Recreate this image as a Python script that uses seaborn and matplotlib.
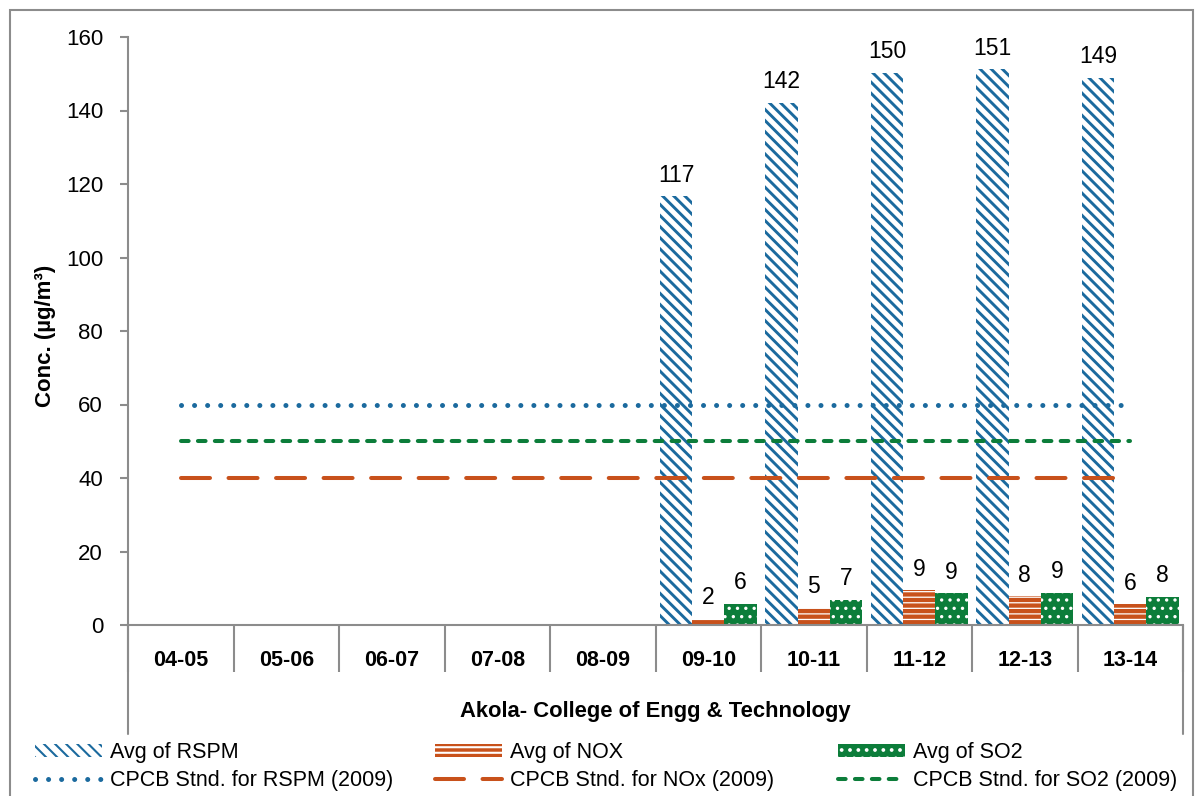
import numpy as np
import pandas as pd
import matplotlib
matplotlib.use("Agg")
import matplotlib.pyplot as plt
import seaborn as sns
from matplotlib.patches import Rectangle
from matplotlib.lines import Line2D

sns.set_style("white")
plt.rcParams['font.family'] = ['Liberation Sans', 'DejaVu Sans']
plt.rcParams['text.color'] = 'black'
plt.rcParams['axes.labelcolor'] = 'black'
plt.rcParams['hatch.linewidth'] = 1.5

# data
years = ['04-05', '05-06', '06-07', '07-08', '08-09', '09-10', '10-11', '11-12', '12-13', '13-14']
data_years = ['09-10', '10-11', '11-12', '12-13', '13-14']
rspm = [116.6, 142.0, 150.2, 151.2, 148.8]
nox = [1.6, 4.6, 9.4, 7.8, 5.6]
so2 = [5.8, 6.8, 8.6, 8.7, 7.6]
params = ['Avg of RSPM', 'Avg of NOX', 'Avg of SO2']
std_labels = ['CPCB Stnd. for RSPM (2009)', 'CPCB Stnd. for NOx (2009)', 'CPCB Stnd. for SO2 (2009)']
std_values = [60, 40, 50]

blue = '#1B6A9E'
orange = '#C8511B'
green = '#0C7D3A'
grid_gray = '#8C8C8C'

df = pd.DataFrame({
    'year': data_years * 3,
    'param': [params[0]] * 5 + [params[1]] * 5 + [params[2]] * 5,
    'value': rspm + nox + so2,
})

fig = plt.figure(figsize=(12.03, 7.96), dpi=100)
ax = fig.add_axes([128 / 1203, 1 - 625 / 796, 1055 / 1203, 588 / 796])

sns.barplot(data=df, x='year', y='value', hue='param', order=years, hue_order=params,
            palette=[blue, orange, green], saturation=1, width=0.915, gap=0,
            errorbar=None, linewidth=0, legend=False, ax=ax)

# hatch styling: edgecolor carries the hatch colour
styles = [('white', blue, '\\\\\\', 2.1), (orange, 'white', '---', 0.9), (green, 'white', '..', 1.2)]
for cont, (fc, hc, hatch, hlw) in zip(ax.containers, styles):
    for bar in cont:
        bar.set_facecolor(fc)
        bar.set_edgecolor(hc)
        bar.set_linewidth(0)
        bar.set_hatch(hatch)
        if hasattr(bar, 'set_hatch_linewidth'):
            bar.set_hatch_linewidth(hlw)
    ax.bar_label(cont, fmt='%.0f', padding=7, fontsize=16.5, color='black')

# standard lines from first to last category centre
x_pos = np.arange(len(years))
line_styles = [(blue, (0, (0.01, 2.6)), 3.6), (orange, (0, (7.2, 4.6)), 2.9), (green, (0, (1.9, 2.3)), 2.9)]
line_handles = []
for val, (c, ls, lw), lab in zip(std_values, line_styles, std_labels):
    sns.lineplot(x=x_pos, y=[val] * len(years), ax=ax, color=c, linewidth=lw, legend=False)
    ln = ax.lines[-1]
    ln.set_linestyle(ls)
    ln.set_dash_capstyle('round')
    ln.set_zorder(5)
    line_handles.append(Line2D([], [], color=c, linewidth=lw, linestyle=ls,
                               dash_capstyle='round', label=lab))

ax.set_ylim(0, 160)
ax.set_xlim(-0.5, len(years) - 0.5)
ax.set_yticks(range(0, 161, 20))
ax.set_xlabel('')
ax.set_ylabel('')
for s in ['top', 'right']:
    ax.spines[s].set_visible(False)
for s in ['left', 'bottom']:
    ax.spines[s].set_color(grid_gray)
    ax.spines[s].set_linewidth(1.5)

ax.tick_params(axis='y', which='major', length=6, width=1.5, color=grid_gray, labelcolor='black',
               direction='out', left=True, pad=12, labelsize=16)
ax.set_xticks(x_pos)
ax.set_xticklabels(years, fontweight='bold')
ax.set_xticks(np.arange(-0.5, len(years), 1), minor=True)
ax.tick_params(axis='x', which='major', length=0, pad=18, labelsize=15.5, labelcolor='black')
ax.tick_params(axis='x', which='minor', length=34, width=1.5, color=grid_gray,
               direction='out', bottom=True)

# outer lines of the multi-level category axis
for xv in [-0.5, len(years) - 0.5]:
    ax.add_line(Line2D([xv, xv], [0, -0.185], transform=ax.get_xaxis_transform(),
                       color=grid_gray, linewidth=1.5, clip_on=False))

fig.text(45 / 1203, 1 - 336 / 796, 'Conc. (µg/m³)', rotation=90, ha='center', va='center',
         fontsize=16, fontweight='bold')
fig.text(655.5 / 1203, 1 - 711 / 796, 'Akola- College of Engg & Technology', ha='center',
         va='center', fontsize=15.8, fontweight='bold')

# legends: three columns, bar handle above line handle
bar_handles = [ax.containers[i][-1] for i in range(3)]
for i, xpx in enumerate([35, 435, 838]):
    fig.legend([bar_handles[i], line_handles[i]], [params[i], std_labels[i]],
               loc='center left', bbox_to_anchor=(xpx / 1203, 1 - 766.7 / 796),
               frameon=False, fontsize=15.5, handlelength=3.1, handleheight=0.55,
               handletextpad=0.4, labelspacing=0.3, borderpad=0, borderaxespad=0)

# chart border
fig.patches.append(Rectangle((10 / 1203, -0.01), 1183 / 1203, 1 - 10 / 796 + 0.01,
                             transform=fig.transFigure, fill=False,
                             edgecolor=grid_gray, linewidth=1.5))

fig.savefig('out.png', dpi=100)
